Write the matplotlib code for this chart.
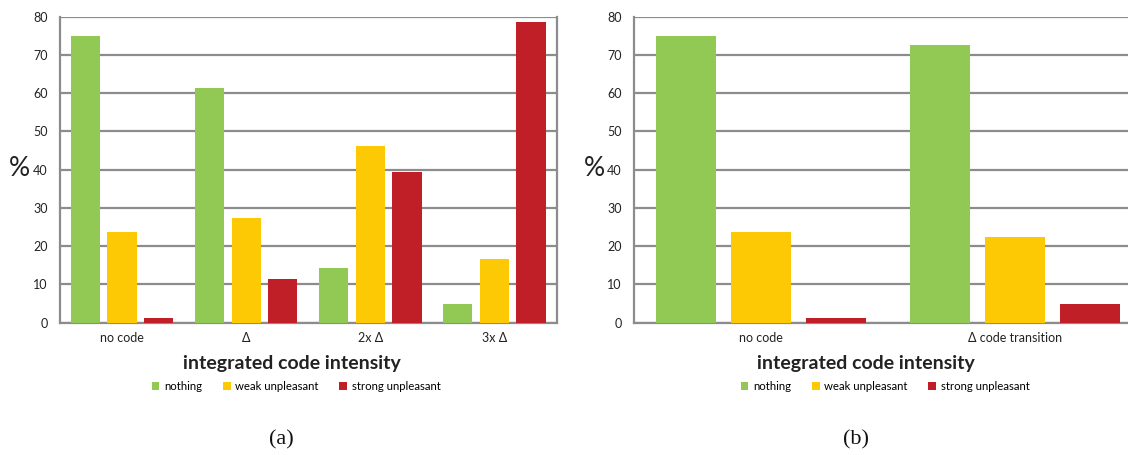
import matplotlib.pyplot as plt
from matplotlib.patches import Patch
import numpy as np

series = ['nothing', 'weak unpleasant', 'strong unpleasant']
colors = ['#92c955', '#fdc905', '#c01f28']

cats_a = ['no code', 'Δ', '2x Δ', '3x Δ']
nothing_a = [75.0, 61.3, 14.2, 4.8]
weak_a = [23.8, 27.3, 46.3, 16.6]
strong_a = [1.2, 11.3, 39.3, 78.5]

cats_b = ['no code', 'Δ code transition']
nothing_b = [75.0, 72.7]
weak_b = [23.7, 22.5]
strong_b = [1.2, 4.8]

grid_col = '#8c8c8c'
tick_font = 'Lato'

fig = plt.figure(figsize=(11.28, 4.55), dpi=100)


def panel(rect, cats, vals, right_spine=True):
    ax = fig.add_axes(rect)
    x = np.arange(len(cats))
    w = 0.235
    step = 0.295
    for k, (v, c) in enumerate(zip(vals, colors)):
        ax.bar(x + (k - 1) * step, v, w, color=c, zorder=3,
               edgecolor='none')
    ax.set_xlim(-0.5, len(cats) - 0.5)
    ax.set_ylim(0, 80)
    ax.set_yticks(range(0, 81, 10))
    ax.set_xticks(x)
    ax.set_xticklabels(cats, fontsize=9, family=tick_font)
    for lab in ax.get_yticklabels():
        lab.set_fontsize(9)
        lab.set_family(tick_font)
    ax.tick_params(axis='both', length=0, colors='#222222')
    ax.tick_params(axis='y', pad=9)
    ax.tick_params(axis='x', pad=7)
    ax.yaxis.grid(True, color=grid_col, linewidth=1.6, zorder=0)
    for s in ['left', 'bottom', 'right', 'top']:
        ax.spines[s].set_color(grid_col)
        ax.spines[s].set_linewidth(1.6)
    ax.spines['top'].set_visible(False)
    ax.spines['right'].set_visible(right_spine)
    return ax


W, H = 1128, 455


def fx(px):
    return px / W


def fy(py):
    return 1 - py / H


ax_a = panel([fx(60), fy(322.7), fx(556.5 - 60), (322.7 - 16.7) / H],
             cats_a, [nothing_a, weak_a, strong_a])
ax_b = panel([fx(634), fy(322.7), fx(1142 - 634), (322.7 - 16.7) / H],
             cats_b, [nothing_b, weak_b, strong_b])

handles = [Patch(facecolor=c, edgecolor='none') for c in colors]
for cx_lab, cx_leg, cx_pct, cx_cap, cap in [(292, 296, 19, 281, '(a)'),
                                            (866, 885, 594, 856, '(b)')]:
    fig.text(fx(cx_pct), fy(169), '%', fontsize=19, family='Lato',
             ha='center', va='center', color='#222222')
    fig.text(fx(cx_lab), fy(364), 'integrated code intensity', fontsize=14,
             family='Lato', weight='bold', ha='center', va='center',
             color='#222222')
    fig.legend(handles, series, loc='center', ncol=3, frameon=False,
               bbox_to_anchor=(fx(cx_leg), fy(386)),
               prop={'family': tick_font, 'size': 8.2},
               handlelength=0.7, handleheight=0.7, handletextpad=0.4,
               columnspacing=1.8, borderpad=0)
    fig.text(fx(cx_cap), fy(440), cap, fontsize=16, family='Liberation Serif',
             ha='center', va='center', color='#111111')

fig.savefig('out.png', dpi=100)
